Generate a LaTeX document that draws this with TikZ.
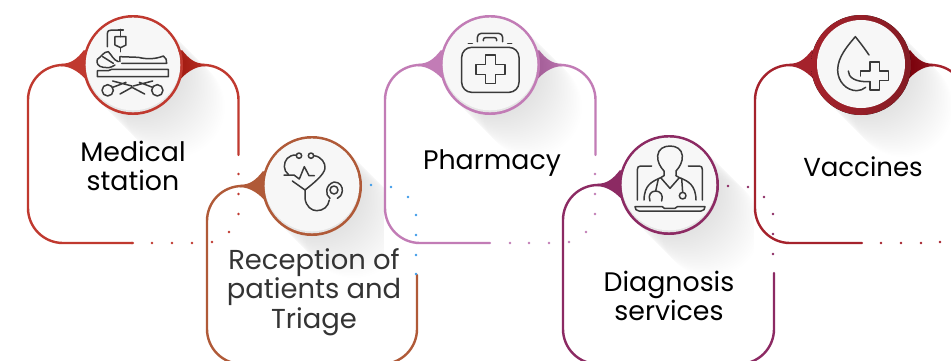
\documentclass[tikz,border=0pt]{standalone}
\usepackage{fontspec}
\setmainfont{Poppins}
\definecolor{cA}{HTML}{C0392F}
\definecolor{cB}{HTML}{B05A38}
\definecolor{cC}{HTML}{C27CB6}
\definecolor{cD}{HTML}{8C2A63}
\definecolor{cE}{HTML}{A5222C}
\definecolor{ink}{HTML}{3A3A3A}
\definecolor{cDot}{HTML}{3D9BE9}
\tikzset{
  cardline/.style={line width=2.4pt,line cap=round,rounded corners=35pt},
  icon/.style={draw=ink,line width=1.5pt,line cap=round,line join=round},
  label/.style={font=\fontsize{26.8}{29.6}\selectfont,align=center,inner sep=0pt,text=black}
}
\newcommand\softshadow[2]{%
  \foreach \t in {0,1.5,...,42}{\fill[black,opacity=.0055] (#1+\t,#2+\t) circle (50pt);}}
\newcommand\flareleft[3]{\fill[#3] (#1-72,#2-1.2) .. controls (#1-62,#2-1.2) and (#1-56,#2-6) .. (#1-49,#2-15) -- (#1-30,#2) -- (#1-44,#2+18) .. controls (#1-52,#2+8) and (#1-62,#2+1.2) .. (#1-72,#2+1.2) -- cycle;}
\newcommand\flareright[3]{\fill[#3] (#1+72,#2-1.2) .. controls (#1+62,#2-1.2) and (#1+56,#2-6) .. (#1+49,#2-15) -- (#1+30,#2) -- (#1+44,#2+18) .. controls (#1+52,#2+8) and (#1+62,#2+1.2) .. (#1+72,#2+1.2) -- cycle;}
\newcommand\disc[4]{% x y colour inner radius
  \fill[#3] (#1,#2) circle (50pt);
  \fill[white!90!black] (#1,#2) circle (#4pt);
  \begin{scope}\clip (#1,#2) circle (#4pt);
  \fill[white!97!black] (#1,#2-2) circle (#4pt);\end{scope}}
\newcommand\spots[2]{\foreach \p in {#2}{\fill[#1] \p circle (1.3pt);}}
\begin{document}
\begin{tikzpicture}[x=1pt,y=-1pt]
\clip (0,0) rectangle (951,360);
\fill[white] (0,0) rectangle (951,360);
% ---------- card 1
\draw[cardline,cA] (133,243) -- (28,243) -- (28,65) -- (75,65);
\draw[cardline,cA] (190,65) -- (238.5,65) -- (238.5,155);
\flareleft{133}{65}{cA}\flareright{133}{65}{cA}
\softshadow{133}{65}
\disc{133}{65}{cA}{47.3}
\spots{cA}{(238.5,174),(238.5,194),(238.5,214),(229,232),(212,242),(192,243),(172,243),(152,243),(132,243)}
% ---------- card 3
\draw[cardline,cC] (490,243) -- (385,243) -- (385,65) -- (430,65);
\draw[cardline,cC] (550,65) -- (595.5,65) -- (595.5,155);
\flareleft{490}{65}{cC}\flareright{490}{65}{cC}
\softshadow{490}{65}
\disc{490}{65}{cC}{47.3}
\spots{cC}{(595,174),(595,194),(595,214),(586,232),(569,242),(549,243),(529,243),(510,243)}
% ---------- card 5
\draw[cardline,cE] (862,243) -- (755,243) -- (755,65) -- (800,65);
\draw[cardline,cE] (920,65) -- (966,65) -- (966,155);
\flareleft{861}{65}{cE}\flareright{861}{65}{cE!92!black}
\softshadow{861}{65}
\fill[left color=cE,right color=cE!80!black] (861,65) circle (50pt);
\fill[white!97!black] (861,64) circle (44pt);
\spots{cE}{(881,243),(901,243),(921,243),(940,242)}
% ---------- card 2
\begin{scope}
\clip (0,0) rectangle (384,360);
\softshadow{312}{186}
\end{scope}
\draw[cardline,cB] (417,275) -- (417,364) -- (207,364) -- (207,186) -- (255,186);
\flareleft{312}{186}{cB}
\disc{312}{186}{cB}{47.3}
\spots{cDot}{(371,185),(391,187),(408,197),(416,215),(416,235),(416,255),(416,274)}
% ---------- card 4
\begin{scope}
\clip (0,0) rectangle (754,360);
\softshadow{669}{185}
\end{scope}
\draw[cardline,cD] (774,273) -- (774,364) -- (563,364) -- (563,185) -- (610,185);
\flareleft{669}{185}{cD}
\disc{669}{185}{cD}{47.3}
\spots{cD}{(728,186),(748,187),(764,197),(773,214),(773,234),(773,254)}
% ---------- labels
\node[label] (medical) at (133,166) {Medical\\station};
\node[label,text=ink!90!black,font=\fontsize{27.4}{29.6}\selectfont] (reception) at (314,292) {Reception of\\patients and\\Triage};
\node[label] (pharmacy) at (492,163) {Pharmacy};
\node[label] (diagnosis) at (669,296) {Diagnosis\\services};
\node[label,font=\fontsize{26}{29.6}\selectfont] (vaccines) at (863,167) {Vaccines};
% ---------- icon 1: bed
\begin{scope}[scale=1/3,icon]
\draw (322,140) -- (322,102) .. controls (322,92) and (328,90) .. (335,90) -- (358,90);
\draw (362,88) -- (362,110) (355,90) -- (370,90);
\draw (345,110) -- (378,110) -- (378,135) -- (362,143) -- (345,135) -- cycle;
\draw (362,143) -- (362,155);
\draw (360,185) -- (360,170) -- (415,172) .. controls (440,178) and (465,178) .. (490,168) .. controls (497,172) and (502,182) .. (500,190) -- (365,190);
\draw (355,185) .. controls (340,180) and (335,165) .. (325,155) .. controls (310,155) and (305,170) .. (292,178) .. controls (288,190) and (295,200) .. (310,202) .. controls (320,204) and (330,205) .. (345,195);
\draw (308,170) -- (340,190);
\draw (292,230) -- (292,212) -- (325,212) -- (335,208) -- (505,208) -- (505,230) -- cycle;
\draw (323,271) circle (17) (472,271) circle (17);
\draw (338,262) -- (378,247) (338,243) -- (396,258) (360,282) -- (396,262) -- (434,282);
\draw (458,262) -- (418,247) (458,243) -- (400,258);
\end{scope}
% ---------- icon 2: stethoscope (crop origin 260,135)
\begin{scope}[shift={(260,135)},scale=1/3,icon]
\draw (117,62) circle (8) (153,62) circle (8);
\draw (108,60) .. controls (85,60) and (73,75) .. (73,95) .. controls (73,105) and (78,112) .. (85,118);
\draw (162,62) .. controls (185,65) and (197,85) .. (195,100) .. controls (192,120) and (160,145) .. (135,165) -- (97,138);
\draw (72,120) -- (102,120) -- (118,132) -- (133,95) -- (147,122) -- (163,122);
\draw (135,165) -- (135,190) .. controls (138,215) and (155,227) .. (170,227) .. controls (190,227) and (205,215) .. (208,195);
\draw (222,165) circle (12);
\draw (210,190) .. controls (195,180) and (195,150) .. (222,141) .. controls (240,141) and (248,155) .. (247,168) .. controls (245,180) and (240,187) .. (232,190);
\end{scope}
% ---------- icon 3: kit (crop origin 370,10)
\begin{scope}[shift={(370,10)},scale=1/3,icon]
\draw[rounded corners=10pt] (275,112) rectangle (447,247);
\draw[rounded corners=4pt] (322,95) -- (322,70) -- (398,70) -- (398,95);
\draw[rounded corners=2pt] (340,92) -- (340,83) -- (380,83) -- (380,92);
\draw (295,100) -- (307,100) (413,100) -- (425,100);
\draw (346,135) -- (376,135) -- (376,164) -- (405,164) -- (405,193) -- (376,193) -- (376,221) -- (346,221) -- (346,193) -- (318,193) -- (318,164) -- (346,164) -- cycle;
\end{scope}
% ---------- icon 4: doctor (crop origin 625,135)
\begin{scope}[shift={(625,135)},scale=1/3,icon]
\draw (117,122) -- (117,108) .. controls (105,95) and (97,80) .. (98,62) .. controls (100,42) and (116,33) .. (135,33) .. controls (154,33) and (170,42) .. (172,62) .. controls (173,80) and (165,95) .. (153,108) -- (153,122);
\draw (117,122) -- (107,128) .. controls (80,140) and (58,150) .. (57,195);
\draw (153,122) -- (163,128) .. controls (190,138) and (212,150) .. (213,195);
\draw (107,128) -- (135,160) -- (163,128);
\draw (80,93) -- (47,93) .. controls (40,93) and (37,97) .. (37,104) -- (37,195);
\draw (190,93) -- (223,93) .. controls (230,93) and (232,97) .. (232,104) -- (232,195);
\draw (30,215) -- (112,215) -- (118,220) -- (150,220) -- (157,215) -- (240,215) .. controls (240,222) and (236,228) .. (228,228) -- (42,228) .. controls (34,228) and (30,222) .. (30,215) -- cycle;
\draw (100,132) -- (92,168);
\draw (75,198) .. controls (68,180) and (78,168) .. (92,168) .. controls (106,168) and (116,180) .. (110,198);
\draw (170,130) -- (173,172);
\draw (173,182) circle (10);
\end{scope}
% ---------- icon 5: drop (crop origin 720,0)
\begin{scope}[shift={(720,0)},scale=1/3,icon]
\draw (447,165) .. controls (430,140) and (418,125) .. (406,110) .. controls (385,135) and (353,170) .. (353,210) .. controls (353,245) and (380,272) .. (410,272) .. controls (420,272) and (430,268) .. (437,262);
\draw (385,213) .. controls (385,232) and (405,247) .. (450,245);
\draw (422,228) -- (422,213) -- (450,213) -- (450,186) -- (478,186) -- (478,213) -- (505,213) -- (505,242) -- (478,242) -- (478,270) -- (450,270) -- (450,245);
\end{scope}
\end{tikzpicture}
\end{document}
